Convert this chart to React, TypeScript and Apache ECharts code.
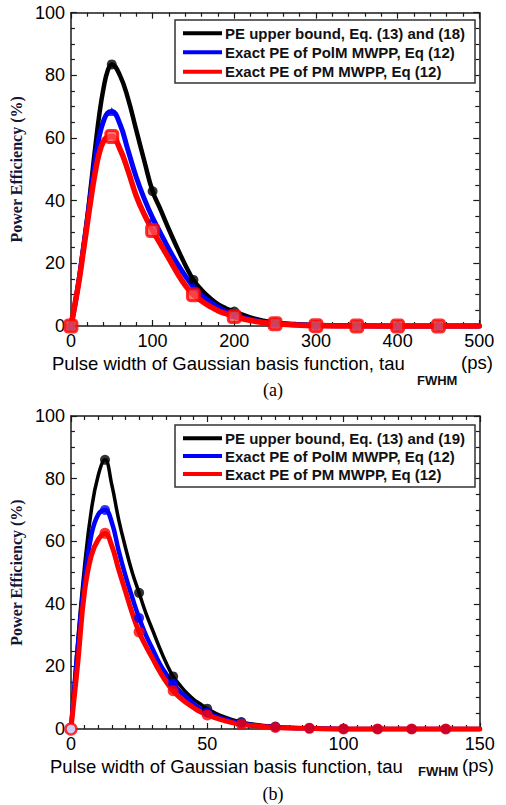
import React, { useEffect, useRef } from "react";
import * as echarts from "echarts";

// ---------- data: panel (a) ----------
const xA = [0, 5, 10, 15, 20, 25, 30, 35, 40, 45, 50, 60, 70, 80, 90, 100, 110, 120, 130, 140, 150, 160, 170, 180, 190, 200, 225, 250, 275, 300, 350, 400, 450, 500];
const blackA = [0, 7, 15, 24.5, 34.5, 46, 57.5, 68, 76, 81.5, 83.5, 80, 72.5, 62.5, 52.5, 43, 37, 30.8, 25, 19.5, 14.7, 11.5, 9, 7, 5.6, 4.6, 2.3, 1.1, 0.6, 0.3, 0.1, 0, 0, 0];
const blueA = [0, 7, 15, 24.5, 34, 44, 53.5, 61, 65.5, 68, 68.5, 64.5, 56, 47.5, 40.5, 34.5, 29.5, 24.5, 20, 16, 12.5, 9.8, 7.8, 6, 4.6, 3.6, 1.8, 0.8, 0.4, 0.2, 0.05, 0, 0, 0];
const redA = [0, 7, 14.5, 23.5, 32.5, 41.5, 49.5, 55.5, 59, 60.3, 60.5, 56.5, 49.5, 41.5, 35.5, 30.5, 26, 21.5, 17, 13, 10, 8, 6.3, 4.9, 3.9, 3, 1.5, 0.7, 0.3, 0.1, 0, 0, 0, 0];
const markerXA = [0, 50, 100, 150, 200, 250, 300, 350, 400, 450];

// ---------- data: panel (b) ----------
const xB = [0, 2.5, 5, 7.5, 10, 12.5, 15, 17.5, 20, 22.5, 25, 27.5, 30, 32.5, 35, 37.5, 40, 42.5, 45, 47.5, 50, 55, 62.5, 75, 87.5, 100, 112.5, 125, 137.5, 150];
const blackB = [0, 28, 52, 70, 81, 86, 78, 67, 58, 50, 43.5, 37, 31.5, 26, 21, 16.8, 14, 11.5, 9.5, 8, 6.5, 4.3, 2.2, 0.8, 0.3, 0.1, 0, 0, 0, 0];
const blueB = [0, 26, 48, 62, 68.5, 70, 66, 57, 49, 42, 35.5, 30, 25.5, 21, 17.5, 14.5, 12, 10, 8, 6.5, 5.3, 3.5, 1.8, 0.6, 0.2, 0, 0, 0, 0, 0];
const redB = [0, 21, 44, 55.5, 60.5, 62.5, 58.5, 51, 44, 37, 31, 26.5, 22.5, 18.5, 15, 12.2, 10, 8.3, 6.8, 5.5, 4.5, 3, 1.5, 0.5, 0.2, 0, 0, 0, 0, 0];
const markerXB = [0, 12.5, 25, 37.5, 50, 62.5, 75, 87.5, 100, 112.5, 125, 137.5];

// ---------- texts ----------
const legendA = ["PE upper bound, Eq. (13) and (18)", "Exact PE of PolM MWPP, Eq (12)", "Exact PE of PM MWPP, Eq (12)"];
const legendB = ["PE upper bound, Eq. (13) and (19)", "Exact PE of PolM MWPP, Eq (12)", "Exact PE of PM MWPP, Eq (12)"];
const yTitle = "Power Efficiency (%)";
const xTitle = "Pulse width of Gaussian basis function, tau";
const xSub = "FWHM";
const xUnit = "(ps)";
const panelLabels = ["(a)", "(b)"];

const COLORS = ["#000000", "#0000ff", "#ff0000"];
const SANS = '"Liberation Sans", Arial, sans-serif';
const SERIF = '"Liberation Serif", "Times New Roman", serif';

const pairs = (xs: number[], ys: number[]) => xs.map((x, i) => [x, ys[i]]);
const pick = (xs: number[], ys: number[], mx: number[]) => mx.map((m) => [m, ys[xs.indexOf(m)]]);

export default function App() {
  const ref = useRef<HTMLDivElement>(null);
  useEffect(() => {
    document.body.style.margin = "0";
    if (!ref.current) return;
    const chart = echarts.init(ref.current, undefined, { renderer: "svg" });

    const grids = [
      { left: 68.3, top: 12.7, width: 411, height: 313.3 },
      { left: 69.3, top: 416, width: 410.5, height: 313 },
    ];
    const xMax = [500, 150];
    const xInt = [100, 50];
    const xMinor = [5, 10];

    const xAxes: any[] = [];
    const yAxes: any[] = [];
    [0, 1].forEach((g) => {
      ["bottom", "top"].forEach((pos, k) => {
        xAxes.push({
          type: "value",
          gridIndex: g,
          position: pos,
          min: 0,
          max: xMax[g],
          interval: xInt[g],
          axisLine: { show: true, onZero: false, lineStyle: { color: "#1a1a1a", width: 1.5 } },
          axisTick: { show: true, inside: true, length: 6, lineStyle: { color: "#1a1a1a", width: 1.2 } },
          minorTick: { show: true, splitNumber: xMinor[g], length: 4, lineStyle: { color: "#1a1a1a", width: 1.2 } },
          splitLine: { show: false },
          axisLabel: k === 0 ? { show: true, fontFamily: SANS, fontSize: 18, color: "#000", margin: 6 } : { show: false },
        });
      });
      ["left", "right"].forEach((pos, k) => {
        yAxes.push({
          type: "value",
          gridIndex: g,
          position: pos,
          min: 0,
          max: 100,
          interval: 20,
          name: k === 0 ? yTitle : "",
          nameLocation: "middle",
          nameGap: 35,
          nameTextStyle: { fontFamily: SERIF, fontWeight: "bold", fontSize: 16, color: "#15153a" },
          axisLine: { show: true, onZero: false, lineStyle: { color: "#1a1a1a", width: 1.5 } },
          axisTick: { show: true, inside: true, length: 6, lineStyle: { color: "#1a1a1a", width: 1.2 } },
          minorTick: { show: true, splitNumber: 4, length: 4, lineStyle: { color: "#1a1a1a", width: 1.2 } },
          splitLine: { show: false },
          axisLabel: k === 0 ? { show: true, fontFamily: SANS, fontSize: 18, color: "#000", margin: 6 } : { show: false },
        });
      });
    });

    const lineSeries = (g: number, xs: number[], ys: number[], color: string, width: number) => ({
      type: "line",
      xAxisIndex: g * 2,
      yAxisIndex: g * 2,
      data: pairs(xs, ys),
      smooth: 0.45,
      symbol: "none",
      clip: false,
      lineStyle: { color, width, cap: "round", join: "round" },
      z: 2,
    });
    const markSeries = (g: number, data: any[], symbol: string, size: number, itemStyle: any) => ({
      type: "scatter",
      xAxisIndex: g * 2,
      yAxisIndex: g * 2,
      data,
      symbol,
      symbolSize: size,
      clip: false,
      itemStyle,
      z: 3,
    });

    const redBMarks = pick(xB, redB, markerXB).map((p, i) =>
      i === 0 ? { value: p, itemStyle: { color: "#ffffff", borderColor: "#ff0000", borderWidth: 2.5 } } : { value: p }
    );

    const series: any[] = [
      lineSeries(0, xA, blackA, COLORS[0], 4.5),
      markSeries(0, pick(xA, blackA, markerXA), "circle", 10, { color: COLORS[0] }),
      lineSeries(0, xA, blueA, COLORS[1], 5),
      markSeries(0, pick(xA, blueA, markerXA), "triangle", 9, { color: COLORS[1] }),
      lineSeries(0, xA, redA, COLORS[2], 5.5),
      markSeries(0, pick(xA, redA, markerXA), "roundRect", 12, { color: "#ff5050", borderColor: COLORS[2], borderWidth: 3 }),

      lineSeries(1, xB, blackB, COLORS[0], 3.5),
      markSeries(1, pick(xB, blackB, markerXB), "circle", 10, { color: COLORS[0] }),
      lineSeries(1, xB, blueB, COLORS[1], 4.5),
      markSeries(1, pick(xB, blueB, markerXB), "circle", 10, { color: COLORS[1] }),
      lineSeries(1, xB, redB, COLORS[2], 5),
      markSeries(1, redBMarks, "circle", 11, { color: COLORS[2] }),
    ];

    const legendGraphic = (labels: string[], boxTop: number, boxH: number, rows: number[]) => [
      {
        type: "rect",
        shape: { x: 175, y: boxTop, width: 300, height: boxH },
        style: { fill: "#ffffff", stroke: "#333333", lineWidth: 1.5 },
        z: 100,
      },
      ...labels.flatMap((t, i) => [
        {
          type: "line",
          shape: { x1: 183, y1: rows[i], x2: 222, y2: rows[i] },
          style: { stroke: COLORS[i], lineWidth: 4 },
          z: 101,
        },
        {
          type: "text",
          x: 225,
          y: rows[i],
          style: { text: t, font: `bold 15px ${SANS}`, fill: "#111111", verticalAlign: "middle", align: "left" },
          z: 101,
        },
      ]),
    ];

    const xTitleGraphic = (mainX: number, mainY: number, subX: number, subY: number, unitX: number, unitY: number, label: string, labelY: number) => [
      { type: "text", x: mainX, y: mainY, style: { text: xTitle, font: `18.5px ${SANS}`, fill: "#000", verticalAlign: "middle" } },
      { type: "text", x: subX, y: subY, style: { text: xSub, font: `bold 13px ${SANS}`, fill: "#111", verticalAlign: "middle" } },
      { type: "text", x: unitX, y: unitY, style: { text: xUnit, font: `18.5px ${SANS}`, fill: "#000", verticalAlign: "middle" } },
      { type: "text", x: 273, y: labelY, style: { text: label, font: `18px ${SERIF}`, fill: "#000", verticalAlign: "middle", align: "center" } },
    ];

    chart.setOption({
      animation: false,
      backgroundColor: "#ffffff",
      grid: grids,
      xAxis: xAxes,
      yAxis: yAxes,
      series,
      graphic: [
        ...legendGraphic(legendA, 20, 63, [33.3, 52.3, 71.7]),
        ...legendGraphic(legendB, 425, 62, [438.3, 456, 474]),
        ...xTitleGraphic(52, 363, 417, 380, 461, 362, panelLabels[0], 390),
        ...xTitleGraphic(50, 766, 418, 771, 462, 765, panelLabels[1], 794),
      ],
    });
    return () => chart.dispose();
  }, []);
  return <div ref={ref} style={{ width: 506, height: 805 }} />;
}
